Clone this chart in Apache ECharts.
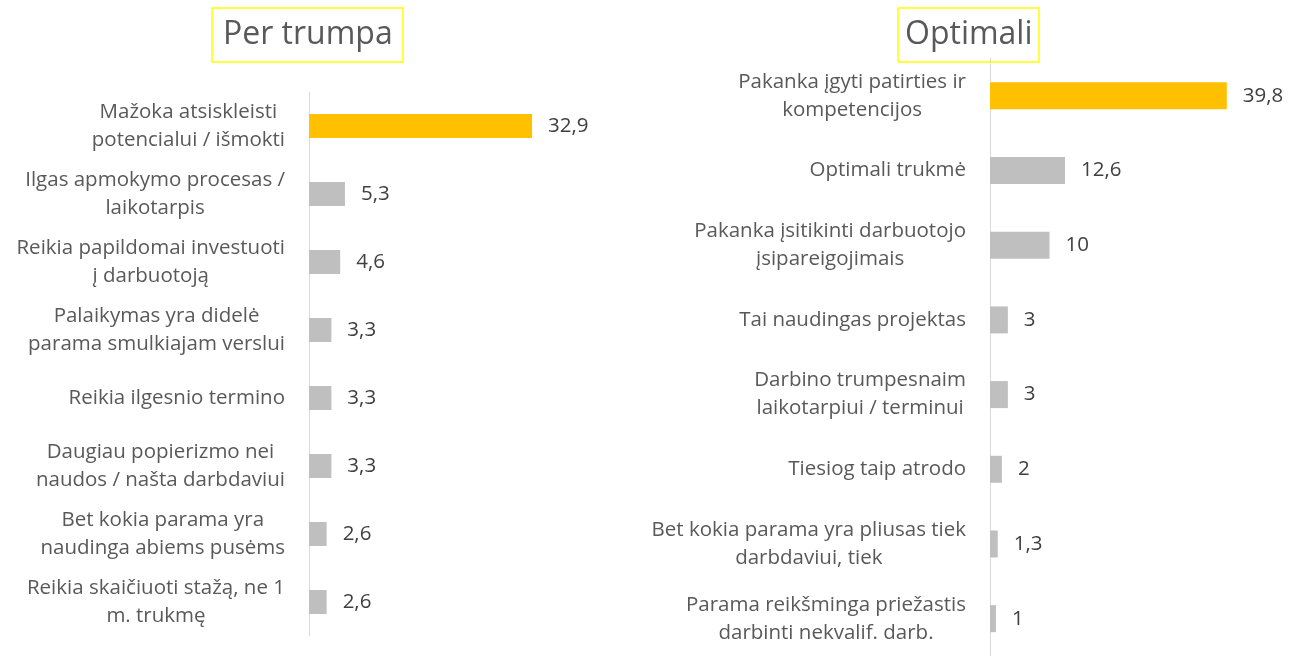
<!DOCTYPE html>
<html>
<head>
<meta charset="utf-8">
<script src="https://cdn.jsdelivr.net/npm/echarts@6/dist/echarts.min.js"></script>
<style>html,body{margin:0;padding:0;background:#fff}#c{width:1297px;height:656px}</style>
</head>
<body>
<div id="c"></div>
<script>
const leftTitle = 'Per trumpa';
const leftCategories = [
  'Mažoka atsiskleisti\npotencialui / išmokti',
  'Ilgas apmokymo procesas /\nlaikotarpis',
  'Reikia papildomai investuoti\nį darbuotoją',
  'Palaikymas yra didelė\nparama smulkiajam verslui',
  'Reikia ilgesnio termino',
  'Daugiau popierizmo nei\nnaudos / našta darbdaviui',
  'Bet kokia parama yra\nnaudinga abiems pusėms',
  'Reikia skaičiuoti stažą, ne 1\nm. trukmę'
];
const leftValues = [32.9, 5.3, 4.6, 3.3, 3.3, 3.3, 2.6, 2.6];

const rightTitle = 'Optimali';
const rightCategories = [
  'Pakanka įgyti patirties ir\nkompetencijos',
  'Optimali trukmė',
  'Pakanka įsitikinti darbuotojo\nįsipareigojimais',
  'Tai naudingas projektas',
  'Darbino trumpesnaim\nlaikotarpiui / terminui',
  'Tiesiog taip atrodo',
  'Bet kokia parama yra pliusas tiek\ndarbdaviui, tiek',
  'Parama reikšminga priežastis\ndarbinti nekvalif. darb.'
];
const rightValues = [39.8, 12.6, 10, 3, 3, 2, 1.3, 1];

const FONT = '"Open Sans", sans-serif';
const HL = '#FFC000', GR = '#BFBFBF';

function catLabel(v) {
  return v.split('\n').map(s => '{c|' + s + '}').join('\n');
}
function yAxis(idx, cats) {
  return {
    type: 'category', gridIndex: idx, data: cats, inverse: true,
    axisLine: {show: true, lineStyle: {color: '#D9D9D9', width: 1}},
    axisTick: {show: false},
    axisLabel: {
      margin: 24, formatter: catLabel,
      rich: {c: {align: 'center', fontFamily: FONT, fontSize: 20.5, color: '#595959', lineHeight: 28}}
    }
  };
}
function xAxis(idx) {
  return {type: 'value', gridIndex: idx, min: 0, max: 50, show: false, splitLine: {show: false}};
}
function series(idx, vals, bw) {
  return {
    type: 'bar', xAxisIndex: idx, yAxisIndex: idx, barWidth: bw,
    data: vals.map((v, i) => ({value: v, itemStyle: {color: i === 0 ? HL : GR}})),
    label: {
      show: true, position: 'right', distance: 16,
      fontFamily: FONT, fontSize: 20.5, color: '#404040',
      formatter: p => String(p.value).replace('.', ',')
    },
    animation: false
  };
}
const chart = echarts.init(document.getElementById('c'), null, {renderer: 'canvas'});
chart.setOption({
  animation: false,
  title: [
    {text: leftTitle, left: 212, top: 8, padding: [8, 11, 8, 11], borderColor: '#FFFF00', borderWidth: 1.5,
     textStyle: {fontFamily: FONT, fontSize: 32, lineHeight: 38, fontWeight: 'normal', color: '#595959'}},
    {text: rightTitle, left: 898, top: 8, padding: [8, 7, 8, 7], borderColor: '#FFFF00', borderWidth: 1.5,
     textStyle: {fontFamily: FONT, fontSize: 32, lineHeight: 38, fontWeight: 'normal', color: '#595959'}}
  ],
  grid: [
    {left: 309, top: 92, width: 339, height: 544},
    {left: 990, top: 58.5, width: 297.5, height: 601}
  ],
  xAxis: [xAxis(0), xAxis(1)],
  yAxis: [yAxis(0, leftCategories), yAxis(1, rightCategories)],
  series: [series(0, leftValues, 24), series(1, rightValues, 27)]
});
</script>
</body>
</html>
